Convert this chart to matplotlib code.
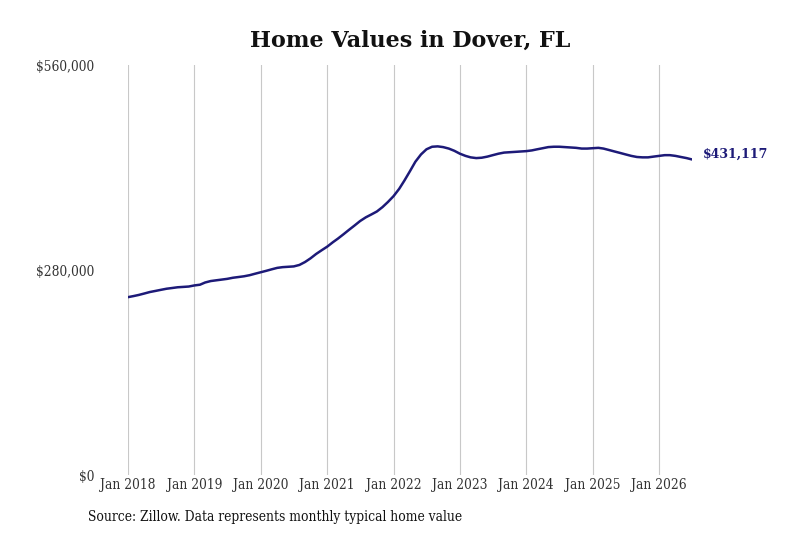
import matplotlib
matplotlib.use("Agg")
import matplotlib.pyplot as plt
import numpy as np
import pandas as pd

# monthly typical home value, Jan 2018 - Jul 2026 (thousands of dollars)
values_2018 = [243, 244.5, 246, 248, 250, 251.5, 253, 254.5, 255.5, 256.5, 257, 257.5]
values_2019 = [259, 260, 263, 265, 266, 267, 268, 269.5, 270.5, 271.5, 273, 275]
values_2020 = [277, 279, 281, 283, 284, 284.5, 285, 287, 291, 296, 302, 307]
values_2021 = [312, 318, 323, 329, 335, 341, 347, 352, 356, 360, 366, 373]
values_2022 = [381, 391, 402, 415, 428, 438, 445, 448.5, 449, 448, 446, 443]
values_2023 = [439, 436, 434, 433, 433.5, 435, 437, 439, 440.5, 441, 441.5, 442]
values_2024 = [442.5, 443.5, 445, 446.5, 448, 448.5, 448.5, 448, 447.5, 447, 446, 446]
values_2025 = [446.5, 447, 446, 444, 442, 440, 438, 436, 434.5, 434, 434, 435]
values_2026 = [436, 437, 437, 436, 434.5, 433, 431.117]

values = np.array(values_2018 + values_2019 + values_2020 + values_2021 + values_2022
                  + values_2023 + values_2024 + values_2025 + values_2026) * 1000
dates = pd.date_range("2018-01-01", periods=len(values), freq="MS")

tick_years = list(range(2018, 2027))
y_ticks = [0, 280000, 560000]
end_label = "$431,117"

navy = "#1d1a78"
serif = "DejaVu Serif"

fig = plt.figure(figsize=(8, 5.33), dpi=100)
ax = fig.add_axes([0.16, 0.1088, 0.705, 0.769])

ax.plot(dates, values, color=navy, lw=1.8, solid_capstyle="round")

ax.set_xlim(dates[0], dates[-1])
ax.set_ylim(0, 560000)
ax.set_yticks(y_ticks)
ax.set_yticklabels([f"${v:,.0f}" for v in y_ticks])
ax.set_xticks([pd.Timestamp(f"{y}-01-01") for y in tick_years])
ax.set_xticklabels([f"Jan {y}" for y in tick_years])

for s in ax.spines.values():
    s.set_visible(False)
ax.grid(axis="x", color="#c8c8c8", lw=0.8)
ax.tick_params(length=0, labelcolor="#333333")
ax.tick_params(axis="y", pad=24)
ax.tick_params(axis="x", pad=2.5)
for lab in ax.get_xticklabels() + ax.get_yticklabels():
    lab.set_fontfamily(serif)
    lab.set_fontstretch("condensed")
    lab.set_fontsize(9.8)

ax.text(dates[-1] + pd.Timedelta(days=60), values[-1] + 6500, end_label,
        color=navy, fontsize=9, fontweight="bold", family=serif,
        va="center", ha="left", clip_on=False)

fig.text(0.5125, 0.924, "Home Values in Dover, FL", ha="center", va="center",
         fontsize=16, fontweight="bold", family=serif, color="#111111")
fig.text(0.11, 0.03, "Source: Zillow. Data represents monthly typical home value",
         ha="left", va="center", fontsize=9.9, family=serif, fontstretch="condensed",
         color="#111111")

fig.savefig("out.png", dpi=100)
